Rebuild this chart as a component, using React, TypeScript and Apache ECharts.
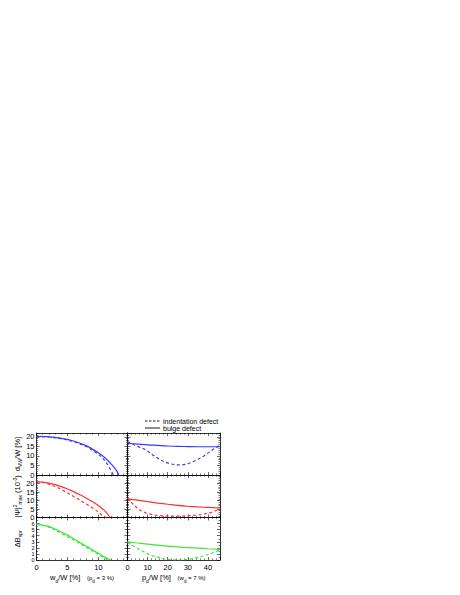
import React, { useEffect, useRef } from 'react';
import * as echarts from 'echarts';

// ---- data ----
// left column: x = w_d/W [%] (p_d = 3 %)
const dvwBulgeW = [[0, 20.2], [2, 20], [4, 19.2], [6, 17.8], [8, 15.4], [9, 13.6], [10, 11.6], [11, 9.2], [12, 6], [12.5, 4.1], [13, 1.9], [13.3, 0]];
const dvwIndentW = [[0, 20.2], [2, 19.9], [4, 19], [6, 17.4], [8, 14.9], [9, 13], [10, 10.8], [10.5, 9.4], [11, 7.6], [11.5, 5.3], [12, 2.6], [12.4, 0]];
const psiBulgeW = [[0, 21], [1, 20.8], [2, 20.2], [3, 19.3], [4, 18.2], [5, 16.8], [6, 15.2], [7, 13.4], [8, 11.5], [9, 9.4], [10, 7], [11, 4], [11.9, 0]];
const psiIndentW = [[0, 21], [1, 20.6], [2, 19.6], [3, 18.2], [4, 16.5], [5, 14.5], [6, 12.4], [7, 10.3], [8, 8], [9, 5.8], [10, 3.2], [10.7, 1], [11.3, 0]];
const dbBulgeW = [[0, 5.9], [1, 5.75], [2, 5.5], [3, 5.1], [4, 4.6], [5, 4.1], [6, 3.5], [7, 2.9], [8, 2.3], [9, 1.7], [10, 1.1], [11, 0.5], [12, 0]];
const dbIndentW = [[0, 5.9], [2, 5.4], [4, 4.4], [5, 3.8], [6, 3.3], [7, 2.7], [8, 2.1], [9, 1.5], [10, 0.9], [11, 0.3], [11.5, 0]];
// right column: x = p_d/W [%] (w_d = 7 %)
const dvwBulgeP = [[0, 16.6], [5, 16.2], [10, 15.8], [15, 15.5], [20, 15.2], [25, 15], [30, 14.9], [35, 14.8], [40, 14.8], [46, 14.8]];
const dvwIndentP = [[0, 17.5], [2, 16.5], [5, 15], [9, 13.2], [13, 10.2], [17, 7.6], [21, 6], [25, 5.3], [29, 5.6], [33, 7.2], [38, 10], [42, 13], [46, 15.6]];
const psiBulgeP = [[0, 11], [5, 10.2], [10, 9.3], [15, 8.5], [20, 7.8], [25, 7.1], [30, 6.6], [35, 6.2], [40, 5.9], [46, 5.6]];
const psiIndentP = [[0, 11.5], [1.5, 9.5], [3, 7.5], [6, 4.6], [9, 2.8], [12, 1.8], [16, 1.1], [21, 0.8], [26, 0.8], [30, 1], [34, 1.4], [38, 2], [42, 3.2], [46, 5]];
const dbBulgeP = [[0, 3], [5, 2.8], [10, 2.6], [15, 2.45], [20, 2.3], [25, 2.15], [30, 2.05], [35, 1.95], [40, 1.85], [46, 1.75]];
const dbIndentP = [[0, 2.9], [3, 2.3], [6, 1.7], [9, 1.2], [12, 0.75], [16, 0.35], [20, 0.1], [25, 0.02], [30, 0.1], [34, 0.35], [38, 0.7], [42, 1.15], [46, 1.7]];

const legendNames = ['indentation defect', 'bulge defect'];
const rowColors = ['#3a3aff', '#ff3030', '#3ce63c'];
const xRanges = [{ min: 0, max: 14.7, interval: 5 }, { min: 0, max: 46, interval: 10 }];
const yRanges = [{ min: 0, max: 22, interval: 5 }, { min: 0, max: 25, interval: 5 }, { min: 0, max: 7, interval: 1 }];
const yTitles = [
  '{m|d}{s|VW}{m|/W [%]}',
  '{m||Ψ|}{sup|2}{s|max}{m| (10}{sup|-3}{m|)}',
  '{m|ΔB}{s|spr}',
];
const xTitles = [
  '{m|w}{s|d}{m|/W [%]}  {p|(p}{ps|d}{p| = 3 %)}',
  '{m|p}{s|d}{m|/W [%]}  {p|(w}{ps|d}{p| = 7 %)}',
];

const FONT = '"Liberation Sans", Arial, sans-serif';

export default function App() {
  const ref = useRef<HTMLDivElement>(null);
  useEffect(() => {
    if (!ref.current) return;
    const chart = echarts.init(ref.current, undefined, { renderer: 'svg' });
    const rowTops = [433, 475, 517.5];
    const rowH = [42, 42.5, 42.5];
    const colLeft = [36.5, 127.5];
    const colW = [91, 92.5];
    const rich = {
      m: { fontSize: 7.5, fontFamily: FONT, color: '#000', lineHeight: 10, verticalAlign: 'middle' },
      s: { fontSize: 5, fontFamily: FONT, color: '#000', lineHeight: 10, verticalAlign: 'bottom', padding: [4, 0, 0, 0] },
      sup: { fontSize: 5, fontFamily: FONT, color: '#000', lineHeight: 10, verticalAlign: 'top', padding: [0, 0, 4, 0] },
      p: { fontSize: 6, fontFamily: FONT, color: '#000', lineHeight: 10 },
      ps: { fontSize: 4.5, fontFamily: FONT, color: '#000', lineHeight: 10, verticalAlign: 'bottom', padding: [3, 0, 0, 0] },
    };
    const grids: any[] = [];
    const xAxes: any[] = [];
    const yAxes: any[] = [];
    const axisLine = { show: true, onZero: false, lineStyle: { color: '#000', width: 0.8 } };
    const tick = { show: true, inside: true, length: 3, lineStyle: { color: '#000', width: 0.6 } };
    const minor = (n: number) => ({ show: true, splitNumber: n, length: 1.6, lineStyle: { color: '#000', width: 0.5 } });
    for (let r = 0; r < 3; r++) {
      for (let c = 0; c < 2; c++) {
        const g = grids.length;
        grids.push({ left: colLeft[c], top: rowTops[r], width: colW[c], height: rowH[r], containLabel: false });
        const xr = xRanges[c];
        const yr = yRanges[r];
        xAxes.push({
          type: 'value', gridIndex: g, position: 'bottom', ...xr,
          axisLine, axisTick: tick, minorTick: minor(5), splitLine: { show: false },
          axisLabel: { show: r === 2, showMaxLabel: false, fontSize: 7.5, fontFamily: FONT, color: '#000', margin: 3 },
          name: r === 2 ? xTitles[c] : '', nameLocation: 'middle', nameGap: 11,
          nameTextStyle: { rich },
        });
        xAxes.push({
          type: 'value', gridIndex: g, position: 'top', ...xr,
          axisLine, axisTick: tick, minorTick: minor(5), splitLine: { show: false },
          axisLabel: { show: false },
        });
        yAxes.push({
          type: 'value', gridIndex: g, position: 'left', ...yr,
          axisLine, axisTick: tick, minorTick: minor(r === 2 ? 2 : 5), splitLine: { show: false },
          axisLabel: {
            show: c === 0, showMaxLabel: false, fontSize: r === 2 ? 5.5 : 7.5, lineHeight: r === 2 ? 5.5 : 8,
            fontFamily: FONT, color: '#000', margin: 2,
          },
          name: c === 0 ? yTitles[r] : '', nameLocation: 'middle', nameRotate: 90, nameGap: 14,
          nameTextStyle: { rich },
        });
        yAxes.push({
          type: 'value', gridIndex: g, position: 'right', ...yr,
          axisLine, axisTick: tick, minorTick: minor(r === 2 ? 2 : 5), splitLine: { show: false },
          axisLabel: { show: false },
        });
      }
    }
    const dataSets = [
      [dvwIndentW, dvwBulgeW, dvwIndentP, dvwBulgeP],
      [psiIndentW, psiBulgeW, psiIndentP, psiBulgeP],
      [dbIndentW, dbBulgeW, dbIndentP, dbBulgeP],
    ];
    const series: any[] = [];
    for (let r = 0; r < 3; r++) {
      for (let c = 0; c < 2; c++) {
        const g = r * 2 + c;
        const indent = dataSets[r][c * 2];
        const bulge = dataSets[r][c * 2 + 1];
        series.push({
          name: legendNames[0], type: 'line', xAxisIndex: g * 2, yAxisIndex: g * 2, data: indent, symbol: 'none', smooth: 0.35,
          lineStyle: { color: rowColors[r], width: 1.2, type: [3, 2.5] }, silent: true,
        });
        series.push({
          name: legendNames[1], type: 'line', xAxisIndex: g * 2, yAxisIndex: g * 2, data: bulge, symbol: 'none', smooth: 0.35,
          lineStyle: { color: rowColors[r], width: 1.2 }, silent: true,
        });
      }
    }

    const legendX = 145;
    const legendY = [421, 428];
    const graphic: any[] = [];
    legendNames.forEach((n, i) => {
      graphic.push({
        type: 'line', shape: { x1: legendX, y1: legendY[i], x2: legendX + 15, y2: legendY[i] },
        style: { stroke: '#000', lineWidth: 0.9, lineDash: i === 0 ? [2.5, 1.5] : null },
      });
      graphic.push({
        type: 'text', x: legendX + 18, y: legendY[i],
        style: { text: n, fontSize: 7, fontFamily: FONT, fill: '#000', verticalAlign: 'middle', align: 'left' },
      });
    });

    chart.setOption({
      animation: false,
      backgroundColor: '#fff',
      textStyle: { fontFamily: FONT },
      grid: grids,
      xAxis: xAxes,
      yAxis: yAxes,
      series,
      graphic,
    });
    return () => chart.dispose();
  }, []);
  return <div ref={ref} style={{ position: 'fixed', left: 0, top: 0, width: 460, height: 595, background: '#fff' }} />;
}
